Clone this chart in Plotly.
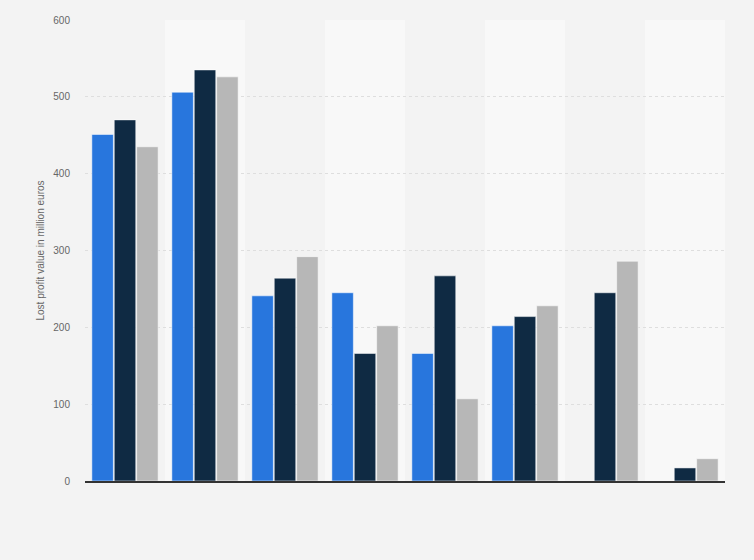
import plotly.graph_objects as go

categories = ["C1", "C2", "C3", "C4", "C5", "C6", "C7", "C8"]
series_a = [451, 506, 241, 245, 166, 202, None, None]
series_b = [470, 535, 264, 166, 267, 214, 245, 17]
series_c = [435, 526, 292, 202, 107, 228, 286, 29]
series_names = ["Series 1", "Series 2", "Series 3"]
colors = ["#2876dd", "#0f2a43", "#b7b7b7"]
y_ticks = [0, 100, 200, 300, 400, 500, 600]

fig = go.Figure()
for name, vals, col in zip(series_names, [series_a, series_b, series_c], colors):
    fig.add_trace(go.Bar(
        x=categories, y=vals, name=name,
        marker=dict(color=col, line=dict(color="rgba(255,255,255,0.5)", width=1)),
        showlegend=False,
    ))

shapes = []
for i, c in enumerate(categories):
    if i % 2 == 1:
        shapes.append(dict(type="rect", xref="x", yref="y", layer="below",
                           x0=i - 0.5, x1=i + 0.5, y0=0, y1=600,
                           fillcolor="#f8f8f8", line=dict(width=0)))

fig.update_layout(
    width=754, height=560,
    margin=dict(l=85, r=29, t=20, b=79),
    paper_bgcolor="#f3f3f3", plot_bgcolor="#f3f3f3",
    barmode="group", bargap=0.16, bargroupgap=0.04,
    shapes=shapes,
    font=dict(family="Arial, Liberation Sans, sans-serif", size=10, color="#666666"),
    xaxis=dict(showticklabels=False, showgrid=False, zeroline=False,
               showline=True, linecolor="#333333", linewidth=1.5,
               range=[-0.5, 7.5]),
    yaxis=dict(range=[0, 600], tickvals=y_ticks, showgrid=True,
               gridcolor="#dedede", griddash="dot", gridwidth=1,
               zeroline=False, ticks="", ticklabelstandoff=14,
               tickfont=dict(size=10, color="#666666"),
               title=dict(text="Lost profit value in million euros",
                          font=dict(size=10, color="#666666"), standoff=6)),
)

fig.write_html("out.html", config={"displayModeBar": False},
               post_script="document.body.style.margin='0';document.body.style.background='#f3f3f3';")
